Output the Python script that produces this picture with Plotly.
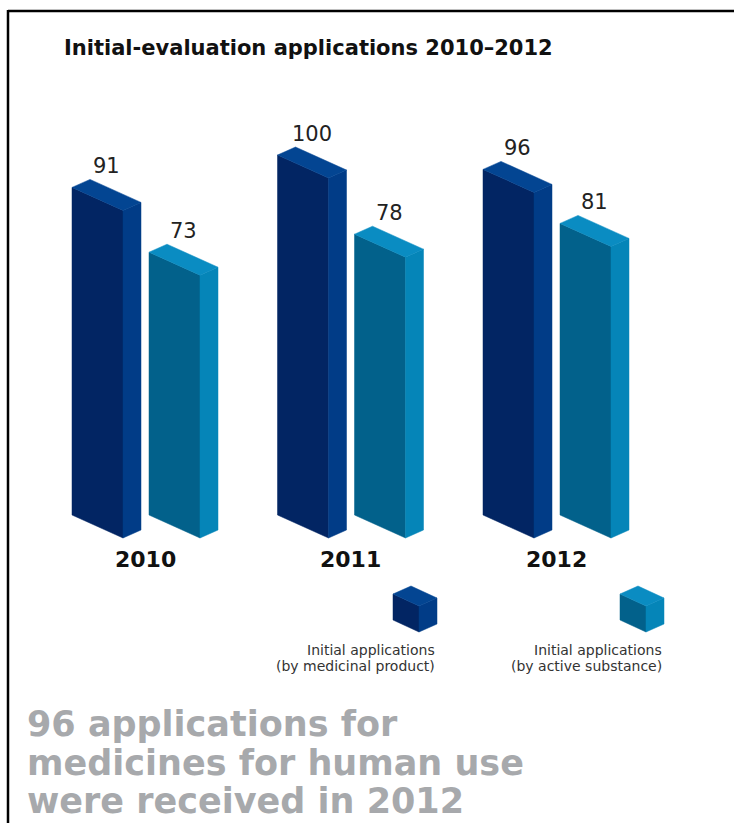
import plotly.graph_objects as go

# ---- data ---------------------------------------------------------------
years = ["2010", "2011", "2012"]
by_medicinal_product = [91, 100, 96]
by_active_substance = [73, 78, 81]
series_labels = [
    ["Initial applications", "(by medicinal product)"],
    ["Initial applications", "(by active substance)"],
]
title_text = "Initial-evaluation applications 2010\u20132012"
headline_lines = [
    "96 applications for",
    "medicines for human use",
    "were received in 2012",
]

# ---- geometry of the pseudo-3D drawing -----------------------------------
FIG_W, FIG_H = 734, 823
BASE_PX = 515          # screen row of value 0 (front-left foot of every bar)
PX_PER_UNIT = 3.6      # vertical pixels per application
Y_MAX = BASE_PX / PX_PER_UNIT
Y_MIN = -(FIG_H - BASE_PX) / PX_PER_UNIT

FRONT_W = 51                     # width of a bar's front face (x units = px)
SLANT = 23 / PX_PER_UNIT         # front face drops this much left→right
DEPTH_X = 18                     # receding side face width
DEPTH_Y = 8 / PX_PER_UNIT        # receding side face rise
GROUP_X0 = 72
GROUP_STEP = 205.5
PAIR_OFFSET = 77

COLORS = [
    dict(front="#022563", side="#013c87", top="#034592"),   # medicinal product
    dict(front="#02618b", side="#0585b8", top="#0a8cc2"),   # active substance
]


def yv(py):
    """Screen row -> value-axis coordinate (for placing text)."""
    return (BASE_PX - py) / PX_PER_UNIT


def prism(x0, base, height, w, slant, colors):
    """Front, side and top polygons of a slanted box standing on `base`."""
    b, t = base, base + height
    xr = x0 + w
    front = ([x0, x0, xr, xr, x0], [b, t, t - slant, b - slant, b], colors["front"])
    side = ([xr, xr + DEPTH_X, xr + DEPTH_X, xr, xr],
            [t - slant, t - slant + DEPTH_Y, b - slant + DEPTH_Y, b - slant, t - slant],
            colors["side"])
    top = ([x0, x0 + DEPTH_X, xr + DEPTH_X, xr, x0],
           [t, t + DEPTH_Y, t - slant + DEPTH_Y, t - slant, t],
           colors["top"])
    return [front, side, top]


fig = go.Figure()


def add_polys(polys):
    for xs, ys, c in polys:
        fig.add_trace(go.Scatter(
            x=xs, y=ys, mode="lines", fill="toself", fillcolor=c,
            line=dict(color=c, width=0.5), hoverinfo="skip", showlegend=False,
        ))


FONT = "DejaVu Sans, Verdana, sans-serif"
annotations = []

for i, year in enumerate(years):
    gx = GROUP_X0 + GROUP_STEP * i
    for s, values in enumerate([by_medicinal_product, by_active_substance]):
        x0 = gx + PAIR_OFFSET * s
        v = values[i]
        add_polys(prism(x0, 0, v, FRONT_W, SLANT, COLORS[s]))
        annotations.append(dict(
            x=x0 + (FRONT_W + DEPTH_X) / 2, y=v + DEPTH_Y, text=str(v),
            xanchor="center", yanchor="bottom", yshift=-1, showarrow=False,
            font=dict(family=FONT, size=21, color="#222222"),
        ))
    annotations.append(dict(
        x=gx + (PAIR_OFFSET + FRONT_W + DEPTH_X) / 2, y=yv(559), text=f"<b>{year}</b>",
        xanchor="center", yanchor="middle", showarrow=False,
        font=dict(family=FONT, size=22, color="#111111"),
    ))

# ---- legend: small cubes with right-aligned captions ---------------------
legend_x = [393, 620]
cube_h = 26 / PX_PER_UNIT
for s, lx in enumerate(legend_x):
    add_polys(prism(lx, yv(620), cube_h, 26, 12 / PX_PER_UNIT, COLORS[s]))
    for k, line in enumerate(series_labels[s]):
        annotations.append(dict(
            x=lx + 26 + DEPTH_X, y=yv(650 + 16 * k), text=line,
            xanchor="right", yanchor="middle", align="right", showarrow=False,
            font=dict(family=FONT, size=14, color="#333333"),
        ))

# ---- title and headline ---------------------------------------------------
annotations.append(dict(
    x=62, y=yv(48), text=f"<b>{title_text}</b>", xanchor="left", yanchor="middle",
    showarrow=False, font=dict(family=FONT, size=21, color="#111111"),
))
for k, line in enumerate(headline_lines):
    annotations.append(dict(
        x=25, y=yv(724 + 38.5 * k), text=f"<b>{line}</b>", xanchor="left",
        yanchor="middle", showarrow=False,
        font=dict(family=FONT, size=35, color="#a7a9ac"),
    ))

fig.update_layout(
    width=FIG_W, height=FIG_H,
    margin=dict(l=0, r=0, t=0, b=0),
    paper_bgcolor="white", plot_bgcolor="white",
    xaxis=dict(range=[0, FIG_W], visible=False, fixedrange=True),
    yaxis=dict(range=[Y_MIN, Y_MAX], visible=False, fixedrange=True),
    annotations=annotations,
    shapes=[
        dict(type="line", xref="paper", yref="paper",
             x0=8 / FIG_W, x1=1, y0=1 - 11 / FIG_H, y1=1 - 11 / FIG_H,
             line=dict(color="black", width=2.5)),
        dict(type="line", xref="paper", yref="paper",
             x0=8 / FIG_W, x1=8 / FIG_W, y0=1 - 10 / FIG_H, y1=0,
             line=dict(color="black", width=2.5)),
    ],
    showlegend=False,
)

fig.write_html("out.html")
